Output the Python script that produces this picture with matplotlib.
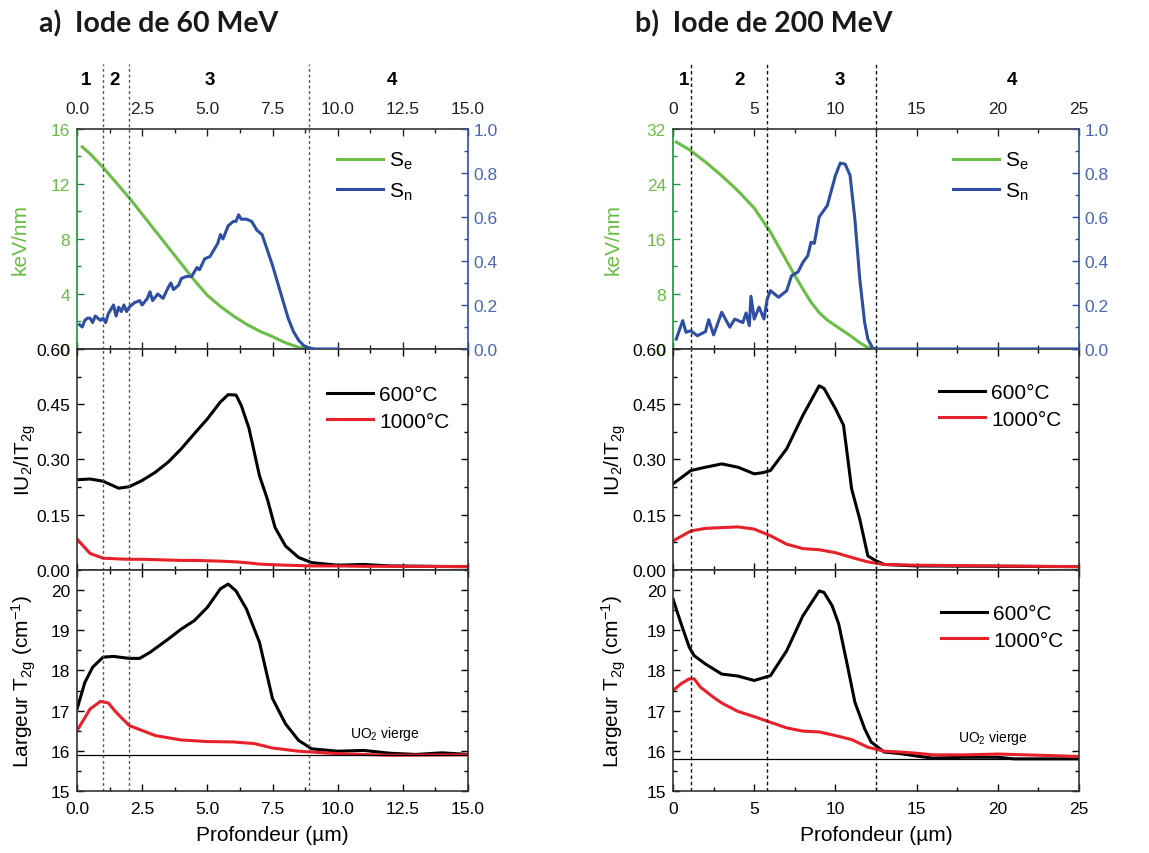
import matplotlib
matplotlib.use('Agg')
import matplotlib.pyplot as plt
from matplotlib.ticker import MultipleLocator, FormatStrFormatter
import matplotlib.transforms as mtrans

plt.rcParams['font.family'] = ['Liberation Sans', 'DejaVu Sans']
plt.rcParams['mathtext.default'] = 'regular'

# ---------------- data: 60 MeV ----------------
se60_x = [0.2, 0.5, 1.0, 1.5, 2.0, 2.5, 3.0, 3.5, 4.0, 4.5, 5.0, 5.5, 6.0, 6.5, 7.0, 7.5, 8.0, 8.5, 8.9]
se60_y = [14.7, 14.2, 13.2, 12.1, 11.0, 9.8, 8.6, 7.4, 6.2, 5.0, 3.9, 3.1, 2.4, 1.8, 1.3, 0.9, 0.45, 0.12, 0.0]
sn60_x = [0.1, 0.2, 0.3, 0.4, 0.5, 0.6, 0.7, 0.8, 0.9, 1.0, 1.1, 1.2, 1.3, 1.4, 1.5, 1.6, 1.7, 1.8, 1.9, 2.0,
          2.2, 2.4, 2.5, 2.7, 2.8, 2.9, 3.1, 3.3, 3.5, 3.6, 3.7, 3.9, 4.0, 4.2, 4.4, 4.6, 4.7, 4.9, 5.1, 5.3,
          5.4, 5.5, 5.6, 5.8, 6.0, 6.1, 6.2, 6.3, 6.5, 6.7, 6.9, 7.1, 7.3, 7.5, 7.7, 7.9, 8.1, 8.3, 8.5, 8.7,
          8.9, 9.1, 10.0]
sn60_y = [0.11, 0.10, 0.13, 0.14, 0.14, 0.12, 0.15, 0.14, 0.13, 0.14, 0.12, 0.16, 0.18, 0.20, 0.15, 0.19, 0.17, 0.20, 0.17, 0.19,
          0.21, 0.22, 0.20, 0.23, 0.26, 0.22, 0.25, 0.23, 0.28, 0.30, 0.27, 0.29, 0.32, 0.33, 0.33, 0.37, 0.36, 0.41, 0.42, 0.46,
          0.48, 0.52, 0.50, 0.56, 0.58, 0.58, 0.61, 0.59, 0.59, 0.58, 0.54, 0.52, 0.45, 0.38, 0.30, 0.22, 0.14, 0.08, 0.04, 0.015,
          0.005, 0.0, 0.0]
ir60_x = [0.0, 0.5, 1.0, 1.6, 2.0, 2.5, 3.0, 3.5, 4.0, 4.5, 5.0, 5.5, 5.8, 6.1, 6.3, 6.6, 7.0, 7.3, 7.6, 8.0, 8.5, 9.0, 10.0, 11.0, 12.0, 15.0]
ir60_600 = [0.245, 0.247, 0.241, 0.222, 0.226, 0.243, 0.265, 0.293, 0.329, 0.370, 0.410, 0.456, 0.476, 0.475, 0.447, 0.384, 0.256, 0.193, 0.115, 0.065, 0.034, 0.020, 0.013, 0.015, 0.011, 0.009]
ir60_1000 = [0.084, 0.045, 0.032, 0.030, 0.029, 0.029, 0.028, 0.027, 0.026, 0.026, 0.025, 0.024, 0.023, 0.022, 0.021, 0.019, 0.016, 0.015, 0.014, 0.013, 0.012, 0.011, 0.011, 0.010, 0.010, 0.009]
w60_x = [0.0, 0.3, 0.6, 1.0, 1.4, 2.0, 2.4, 2.8, 3.5, 4.0, 4.5, 5.0, 5.5, 5.8, 6.1, 6.5, 7.0, 7.5, 8.0, 8.5, 9.0, 10.0, 11.0, 12.0, 13.0, 14.0, 15.0]
w60_600 = [17.04, 17.70, 18.08, 18.33, 18.35, 18.30, 18.30, 18.45, 18.78, 19.03, 19.24, 19.57, 20.03, 20.15, 19.98, 19.53, 18.70, 17.30, 16.67, 16.26, 16.05, 15.99, 16.01, 15.94, 15.91, 15.95, 15.91]
w60_1000_x = [0.0, 0.5, 0.9, 1.2, 1.5, 2.0, 3.0, 4.0, 5.0, 6.0, 6.8, 7.5, 8.5, 9.0, 10.0, 12.0, 15.0]
w60_1000 = [16.50, 17.04, 17.23, 17.19, 16.96, 16.63, 16.38, 16.27, 16.23, 16.22, 16.18, 16.07, 15.99, 15.97, 15.93, 15.89, 15.90]
ref60 = 15.9
zones60 = [1.0, 2.0, 8.9]
zone60_lab_x = [0.35, 1.45, 5.1, 12.1]

# ---------------- data: 200 MeV ----------------
se200_x = [0.2, 1.0, 2.0, 3.0, 4.0, 5.0, 6.0, 7.0, 7.5, 8.0, 8.5, 9.0, 9.5, 10.0, 10.5, 11.0, 11.5, 12.0, 12.5]
se200_y = [30.1, 29.0, 27.2, 25.2, 23.0, 20.5, 17.0, 12.8, 10.7, 8.7, 6.8, 5.3, 4.2, 3.4, 2.6, 1.8, 0.9, 0.2, 0.0]
sn200_x = [0.2, 0.6, 0.8, 1.1, 1.5, 2.0, 2.2, 2.5, 3.0, 3.5, 3.8, 4.3, 4.5, 4.7, 4.8, 5.0, 5.3, 5.6, 5.8, 6.0,
           6.5, 7.0, 7.3, 7.7, 8.0, 8.3, 8.5, 8.7, 9.0, 9.5, 10.0, 10.3, 10.6, 10.9, 11.2, 11.5, 11.8, 12.0, 12.3, 12.5, 25.0]
sn200_y = [0.045, 0.129, 0.076, 0.083, 0.060, 0.079, 0.133, 0.064, 0.167, 0.099, 0.136, 0.120, 0.164, 0.106, 0.240, 0.136, 0.190, 0.136, 0.227, 0.265,
           0.235, 0.265, 0.333, 0.350, 0.394, 0.424, 0.485, 0.480, 0.600, 0.652, 0.788, 0.845, 0.840, 0.790, 0.590, 0.318, 0.120, 0.045, 0.003, 0.0, 0.0]
ir200_x = [0.0, 1.1, 2.0, 3.0, 4.0, 5.0, 5.5, 6.0, 7.0, 8.0, 9.0, 9.3, 10.0, 10.5, 11.0, 11.5, 12.0, 12.5, 13.0, 15.0, 25.0]
ir200_600 = [0.234, 0.270, 0.279, 0.288, 0.279, 0.261, 0.264, 0.270, 0.329, 0.420, 0.500, 0.493, 0.438, 0.393, 0.220, 0.138, 0.038, 0.025, 0.015, 0.011, 0.009]
ir200_1000_x = [0.0, 1.1, 2.0, 3.0, 4.0, 5.0, 6.0, 7.0, 8.0, 9.0, 10.0, 11.0, 12.0, 13.0, 15.0, 25.0]
ir200_1000 = [0.079, 0.106, 0.113, 0.115, 0.117, 0.111, 0.093, 0.070, 0.058, 0.055, 0.047, 0.034, 0.022, 0.015, 0.013, 0.009]
w200_x = [0.0, 0.5, 1.0, 1.3, 2.0, 3.0, 4.0, 5.0, 6.0, 7.0, 8.0, 9.0, 9.3, 9.8, 10.2, 10.7, 11.2, 11.8, 12.2, 13.0, 14.0, 15.0, 16.0, 18.0, 20.0, 21.0, 25.0]
w200_600 = [19.78, 19.16, 18.58, 18.37, 18.16, 17.91, 17.86, 17.75, 17.87, 18.49, 19.36, 19.98, 19.94, 19.61, 19.16, 18.20, 17.21, 16.55, 16.22, 15.97, 15.93, 15.87, 15.82, 15.84, 15.84, 15.80, 15.80]
w200_1000_x = [0.0, 0.5, 1.0, 1.3, 1.7, 2.5, 3.0, 4.0, 5.0, 6.0, 7.0, 8.0, 9.0, 10.0, 11.0, 12.0, 13.0, 14.0, 15.0, 16.0, 18.0, 20.0, 25.0]
w200_1000 = [17.50, 17.67, 17.79, 17.79, 17.58, 17.33, 17.19, 16.98, 16.85, 16.71, 16.57, 16.49, 16.47, 16.38, 16.28, 16.09, 15.99, 15.97, 15.94, 15.90, 15.90, 15.92, 15.86]
ref200 = 15.8
zones200 = [1.1, 5.8, 12.5]
zone200_lab_x = [0.7, 4.1, 10.3, 20.9]

GREEN = '#6abd45'
GREEN_D = '#1f8f3f'
BLUE = '#2e4ea3'
BLUE_L = '#4a66b5'
RED = '#e8202a'

FS_TICK = 12.5
FS_LAB = 15
FS_LEG = 15

fig = plt.figure(figsize=(11.49, 8.54), dpi=100)

def style_ticks(ax, **kw):
    ax.tick_params(which='both', direction='in', width=1.0, labelsize=FS_TICK, **kw)
    ax.tick_params(which='major', length=5)
    ax.tick_params(which='minor', length=3)

def column(x0, w, xmax, xmaj, xmin, xfmt, sex, sey, snx, sny, semax, semaj,
           irx, ir600, irx1000, ir1000, wx, w600, wx1000, w1000, ref, zones, zlabx,
           title, title_x, uo2_xy, leg_anchor, lab_off, zone_color, zone_ls):
    axT = fig.add_axes([x0, 0.5902, w, 0.2576])
    axM = fig.add_axes([x0, 0.3314, w, 0.2588])
    axB = fig.add_axes([x0, 0.0726, w, 0.2588])
    for ax in (axT, axM, axB):
        ax.set_xlim(0, xmax)
        ax.xaxis.set_major_locator(MultipleLocator(xmaj))
        ax.xaxis.set_minor_locator(MultipleLocator(xmin))
        ax.xaxis.set_major_formatter(FormatStrFormatter(xfmt))
        for s in ax.spines.values():
            s.set_linewidth(1.2)
            s.set_color('#333333')
    # ---- top panel ----
    axS = axT.twinx()
    l1, = axT.plot(sex, sey, color=GREEN, lw=2.2)
    l2, = axS.plot(snx, sny, color=BLUE, lw=2.2)
    axT.set_ylim(0, semax)
    axT.yaxis.set_major_locator(MultipleLocator(semaj))
    axT.yaxis.set_minor_locator(MultipleLocator(semaj / 2))
    axT.yaxis.set_major_formatter(FormatStrFormatter('%d'))
    axS.set_ylim(0, 1.0)
    axS.yaxis.set_major_locator(MultipleLocator(0.2))
    axS.yaxis.set_minor_locator(MultipleLocator(0.1))
    axS.yaxis.set_major_formatter(FormatStrFormatter('%.1f'))
    style_ticks(axT, top=True, bottom=True, labeltop=True, labelbottom=False, left=True, right=False)
    axT.tick_params(axis='x', which='both', pad=9, colors='#222222')
    axT.tick_params(axis='y', which='both', colors=GREEN_D, labelcolor=GREEN, pad=5)
    axT.spines['left'].set_color(GREEN_D)
    axT.spines['right'].set_visible(False)
    style_ticks(axS, left=False, right=True)
    axS.tick_params(axis='y', which='both', colors=BLUE, labelcolor=BLUE_L, pad=4)
    axS.spines['right'].set_color(BLUE)
    axS.spines['right'].set_linewidth(1.2)
    for k in ('left', 'top', 'bottom'):
        axS.spines[k].set_visible(False)
    axT.set_ylabel('keV/nm', color=GREEN, fontsize=FS_LAB)
    axT.yaxis.set_label_coords(lab_off[0], 0.5)
    axT.legend([l1, l2], ['S$_e$', 'S$_n$'], loc='upper left', bbox_to_anchor=leg_anchor[0],
               frameon=False, fontsize=FS_LEG, handlelength=2.2, handletextpad=0.3,
               labelspacing=0.45, borderaxespad=0, borderpad=0)
    trans = mtrans.blended_transform_factory(axT.transData, axT.transAxes)
    for lab, xx in zip(['1', '2', '3', '4'], zlabx):
        axT.text(xx, 1.227, lab, transform=trans, ha='center', va='center',
                 fontsize=13.5, fontweight='bold')
    for z in zones:
        axT.plot([z, z], [0, 1.295], transform=trans, color=zone_color, lw=1.0,
                 ls=zone_ls, clip_on=False)
    # ---- middle panel ----
    axM.plot(irx, ir600, color='black', lw=2.2, label='600°C')
    axM.plot(irx1000, ir1000, color=RED, lw=2.2, label='1000°C')
    axM.set_ylim(0, 0.6)
    axM.yaxis.set_major_locator(MultipleLocator(0.15))
    axM.yaxis.set_minor_locator(MultipleLocator(0.075))
    axM.yaxis.set_major_formatter(FormatStrFormatter('%.2f'))
    style_ticks(axM, top=True, bottom=True, left=True, right=True, labelbottom=False)
    axM.tick_params(axis='y', pad=5)
    axM.set_ylabel('IU$_2$/IT$_{2g}$', fontsize=FS_LAB)
    axM.yaxis.set_label_coords(lab_off[1], 0.5)
    axM.legend(loc='upper left', bbox_to_anchor=leg_anchor[1], frameon=False, fontsize=FS_LEG,
               handlelength=2.2, handletextpad=0.3, labelspacing=0.35, borderaxespad=0, borderpad=0)
    for z in zones:
        axM.axvline(z, color=zone_color, lw=1.0, ls=zone_ls)
    # ---- bottom panel ----
    axB.plot(wx, w600, color='black', lw=2.2, label='600°C')
    axB.plot(wx1000, w1000, color=RED, lw=2.2, label='1000°C')
    axB.axhline(ref, color='black', lw=0.9)
    axB.set_ylim(15, 20.5)
    axB.yaxis.set_major_locator(MultipleLocator(1))
    axB.yaxis.set_minor_locator(MultipleLocator(0.5))
    axB.yaxis.set_major_formatter(FormatStrFormatter('%d'))
    style_ticks(axB, top=True, bottom=True, left=True, right=True)
    axB.tick_params(axis='x', pad=7)
    axB.tick_params(axis='y', pad=5)
    axB.set_ylabel('Largeur T$_{2g}$ (cm$^{-1}$)', fontsize=FS_LAB)
    axB.yaxis.set_label_coords(lab_off[2], 0.5)
    axB.set_xlabel('Profondeur (µm)', fontsize=FS_LAB)
    axB.xaxis.set_label_coords(0.5, -0.155)
    axB.text(uo2_xy[0], uo2_xy[1], 'UO$_2$ vierge', fontsize=10, ha='center', va='center')
    if leg_anchor[2] is not None:
        axB.legend(loc='upper left', bbox_to_anchor=leg_anchor[2], frameon=False, fontsize=FS_LEG,
                   handlelength=2.2, handletextpad=0.3, labelspacing=0.35, borderaxespad=0, borderpad=0)
    for z in zones:
        axB.axvline(z, color=zone_color, lw=1.0, ls=zone_ls)
    fig.text(title_x, 1 - 24 / 854, title, fontsize=20.5, fontweight='bold', color='#1a1a1a',
             family=['Lato', 'DejaVu Sans'], va='center', ha='left')

column(77 / 1149, 391 / 1149, 15, 2.5, 1.25, '%.1f', se60_x, se60_y, sn60_x, sn60_y, 16, 4,
       ir60_x, ir60_600, ir60_x, ir60_1000, w60_x, w60_600, w60_1000_x, w60_1000, ref60, zones60,
       zone60_lab_x, 'a)  Iode de 60 MeV', 39 / 1149, (11.8, 16.45),
       [(0.665, 0.905), (0.64, 0.835), None], (-0.12, -0.10, -0.10), '#555555', (0, (2, 2)))
column(673 / 1149, 406 / 1149, 25, 5, 2.5, '%d', se200_x, se200_y, sn200_x, sn200_y, 32, 8,
       ir200_x, ir200_600, ir200_1000_x, ir200_1000, w200_x, w200_600, w200_1000_x, w200_1000, ref200, zones200,
       zone200_lab_x, 'b)  Iode de 200 MeV', 635 / 1149, (19.7, 16.34),
       [(0.69, 0.905), (0.655, 0.845), (0.66, 0.845)], (-0.125, -0.11, -0.11), '#111111', (0, (2.5, 2)))

fig.savefig('out.png', dpi=100)
